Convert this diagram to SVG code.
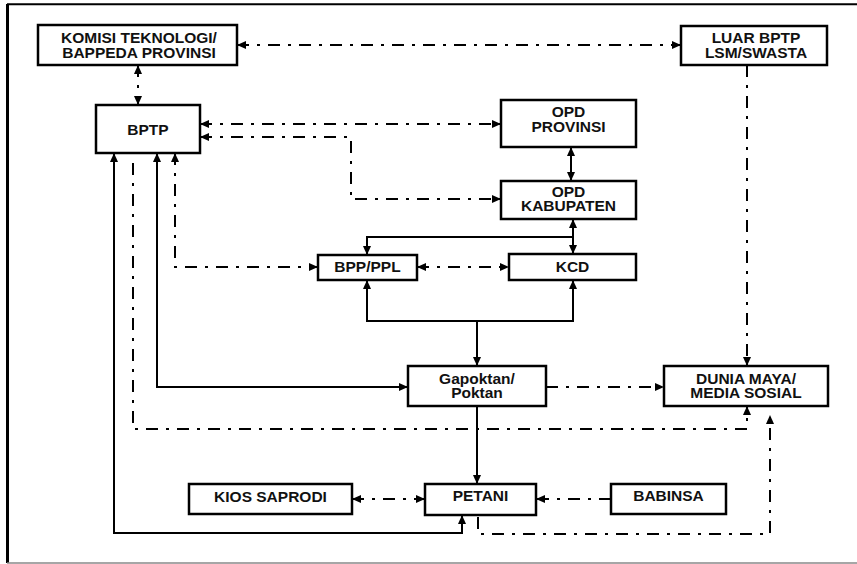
<svg xmlns="http://www.w3.org/2000/svg" width="857" height="564" viewBox="0 0 857 564">
<defs>
<marker id="ah" viewBox="0 0 9 8" refX="9" refY="4" markerWidth="9" markerHeight="8" markerUnits="userSpaceOnUse" orient="auto-start-reverse">
<path d="M0,0 L9,4 L0,8 z" fill="#000"/>
</marker>
<style>
.box{fill:#fff;stroke:#000;stroke-width:2.5}
.t{font-family:"Liberation Sans",Arial,sans-serif;font-weight:bold;font-size:15.5px;text-anchor:middle;fill:#111}
.s{fill:none;stroke:#000;stroke-width:2}
.d{fill:none;stroke:#000;stroke-width:2;stroke-dasharray:12 8 3 8}
.b{marker-start:url(#ah);marker-end:url(#ah)}
.e{marker-end:url(#ah)}
</style>
</defs>
<rect width="857" height="564" fill="#fff"/>
<g id="frame">
<line x1="7" y1="4.3" x2="857" y2="4.3" stroke="#000" stroke-width="2"/>
<line x1="7.5" y1="4" x2="7.5" y2="563" stroke="#000" stroke-width="3"/>
<line x1="7" y1="563" x2="857" y2="563" stroke="#888" stroke-width="1.5"/>
</g>
<g id="connectors">
<path class="d b" d="M237,45 H681"/>
<path class="d b" d="M138,65 V105"/>
<path class="d b" d="M200,124 H501"/>
<path class="d b" d="M200,137 H351 V199 H501"/>
<path class="s b" d="M571,147 V181"/>
<path class="s b" d="M573,219 V254"/>
<path class="s e" d="M573,237 H367 V255"/>
<path class="d b" d="M175,153 V267 H318"/>
<path class="d b" d="M417,267 H509"/>
<path class="s b" d="M367,280 V321 H573 V280"/>
<path class="s e" d="M477,321 V366"/>
<path class="s b" d="M157,153 V387 H408"/>
<path class="d e" d="M133,163 V429 H747 V406"/>
<path class="s b" d="M114,153 V533 H462 V515"/>
<path class="s e" d="M477,406 V484"/>
<path class="d e" d="M546,387 H664"/>
<path class="d e" d="M747,65 V366"/>
<path class="d b" d="M352,499 H425"/>
<path class="d e" d="M611,499 H536"/>
<path class="d e" d="M478,517 V534 H770 V415"/>
</g>
<g id="komisi"><rect class="box" x="38" y="25" width="199" height="40"/><text class="t"><tspan x="139" y="43">KOMISI TEKNOLOGI/</tspan><tspan x="139" y="57.5">BAPPEDA PROVINSI</tspan></text></g>
<g id="luar"><rect class="box" x="681" y="26" width="146" height="39"/><text class="t"><tspan x="756" y="43">LUAR BPTP</tspan><tspan x="756" y="57.5">LSM/SWASTA</tspan></text></g>
<g id="bptp"><rect class="box" x="96" y="105" width="104" height="48"/><text class="t" x="148" y="134.5">BPTP</text></g>
<g id="opd-prov"><rect class="box" x="501" y="100" width="135" height="47"/><text class="t"><tspan x="568.5" y="117">OPD</tspan><tspan x="568.5" y="132">PROVINSI</tspan></text></g>
<g id="opd-kab"><rect class="box" x="501" y="181" width="135" height="38"/><text class="t"><tspan x="568.5" y="197">OPD</tspan><tspan x="568.5" y="210.5">KABUPATEN</tspan></text></g>
<g id="kcd"><rect class="box" x="509" y="254" width="127" height="26"/><text class="t" x="572.5" y="272">KCD</text></g>
<g id="bpp"><rect class="box" x="318" y="255" width="99" height="25"/><text class="t" x="367.5" y="272">BPP/PPL</text></g>
<g id="gapoktan"><rect class="box" x="408" y="366" width="138" height="40"/><text class="t"><tspan x="477" y="384">Gapoktan/</tspan><tspan x="477" y="398">Poktan</tspan></text></g>
<g id="dunia"><rect class="box" x="664" y="366" width="164" height="40"/><text class="t"><tspan x="746" y="384">DUNIA MAYA/</tspan><tspan x="746" y="398">MEDIA SOSIAL</tspan></text></g>
<g id="kios"><rect class="box" x="189" y="484" width="163" height="30"/><text class="t" x="270.5" y="502">KIOS SAPRODI</text></g>
<g id="petani"><rect class="box" x="425" y="484" width="111" height="31"/><text class="t" x="480.5" y="501">PETANI</text></g>
<g id="babinsa"><rect class="box" x="611" y="484" width="115" height="30"/><text class="t" x="668.5" y="501">BABINSA</text></g>
</svg>
